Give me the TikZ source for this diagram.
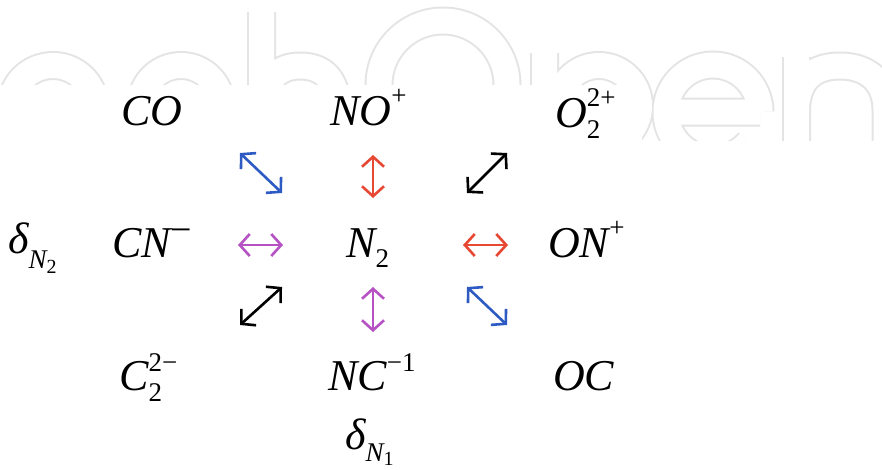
\documentclass[tikz,border=0pt]{standalone}
\usepackage{fontspec}
\setmainfont{Liberation Serif}[UprightFont={Liberation Serif}, ItalicFont={Liberation Serif Italic}]
\newfontfamily\timesit{Liberation Serif Italic}
\newfontfamily\timesup{Liberation Serif}
\usetikzlibrary{arrows.meta}
\definecolor{arrblue}{RGB}{45,90,195}
\definecolor{arrred}{RGB}{230,72,52}
\definecolor{arrpurple}{RGB}{182,82,196}
\definecolor{wmgray}{RGB}{228,228,228}
\newcommand\mainsize{\fontsize{44}{44}\selectfont}
\newcommand\scrsize{\fontsize{27}{27}\selectfont}
\newcommand\subsubsize{\fontsize{20}{20}\selectfont}
\newcommand\Rs[2]{\raisebox{#1}{\scrsize\timesup #2}}
\newcommand\RsBoth[3]{\makebox[0pt][l]{\raisebox{#1}{\scrsize\timesup #2}}\raisebox{-11pt}{\scrsize\timesup #3}}
\tikzset{
  lab/.style={inner sep=0pt, anchor=base west, font=\mainsize\timesit},
  dblarrow/.style={line width=2.6pt,
    {Straight Barb[length=10pt,width=22pt]}-{Straight Barb[length=10pt,width=22pt]}},
  wmpath/.style={line cap=butt, line join=round}
}
\begin{document}
\begin{tikzpicture}[x=1pt,y=-1pt]
\useasboundingbox (0,0) rectangle (882,469);
% faint watermark
\begin{scope}
\clip (0,0) rectangle (882,140);
\foreach \w/\c in {29/wmgray, 25/white} {
  \draw[wmpath, line width=\w pt, draw=\c]
    (53,108) circle[radius=42.5]
    (181,106) circle[radius=40.5]
    (261.5,12) -- (261.5,170)
    (261.5,110) .. controls (263,78) and (280,66) .. (300,66) .. controls (324,66) and (337,80) .. (337,108) -- (337,170)
    (443,85) circle[radius=64]
    (544.5,53) -- (544.5,200)
    (599,106) circle[radius=40.5]
    (760,112) -- (666,112)
    (760,112) arc[start angle=0,end angle=-320,radius=47]
    (796.5,57) -- (796.5,200)
    (796.5,108) .. controls (798,78) and (815,66) .. (840,66) .. controls (868,66) and (886,82) .. (886,110) -- (886,200);
}
\end{scope}
\fill[white] (0,85) rectangle (642,469);
% species
\node[lab] (co) at (121,125) {CO};
\node[lab] (nop) at (330,125) {NO\Rs{21pt}{+}};
\node[lab] (o2) at (555,127) {O\RsBoth{21pt}{2+}{2}};
\node[lab] (dn2) at (8,253) {δ\raisebox{-15pt}{\scrsize N\raisebox{-5pt}{\subsubsize\timesup 2}}};
\node[lab] (cnm) at (112,257) {CN\raisebox{15pt}{\fontsize{38}{38}\selectfont\timesup −}};
\node[lab] (n2) at (346,257) {N\Rs{-10pt}{2}};
\node[lab] (onp) at (548,257) {ON\Rs{21pt}{+}};
\node[lab] (c2) at (119,390) {C\RsBoth{19pt}{2−}{2}};
\node[lab] (ncm) at (328,390) {NC\Rs{19pt}{−1}};
\node[lab] (oc) at (553,390) {OC};
\node[lab] (dn1) at (345,449) {δ\raisebox{-12pt}{\scrsize N\raisebox{-4pt}{\subsubsize\timesup 1}}};
% arrow end points
\coordinate (a1s) at (240,153); \coordinate (a1e) at (282,193);
\coordinate (a2s) at (373,155); \coordinate (a2e) at (373,198);
\coordinate (a3s) at (467,193); \coordinate (a3e) at (507,153);
\coordinate (a4s) at (238,245); \coordinate (a4e) at (283,245);
\coordinate (a5s) at (463,245); \coordinate (a5e) at (508,245);
\coordinate (a6s) at (240,325); \coordinate (a6e) at (282,287);
\coordinate (a7s) at (373,287); \coordinate (a7e) at (373,332);
\coordinate (a8s) at (467,287); \coordinate (a8e) at (507,325);
\draw[dblarrow, arrblue] (a1s) -- (a1e);
\draw[dblarrow, arrred] (a2s) -- (a2e);
\draw[dblarrow, black] (a3s) -- (a3e);
\draw[dblarrow, arrpurple] (a4s) -- (a4e);
\draw[dblarrow, arrred] (a5s) -- (a5e);
\draw[dblarrow, black] (a6s) -- (a6e);
\draw[dblarrow, arrpurple] (a7s) -- (a7e);
\draw[dblarrow, arrblue] (a8s) -- (a8e);
\end{tikzpicture}
\end{document}
